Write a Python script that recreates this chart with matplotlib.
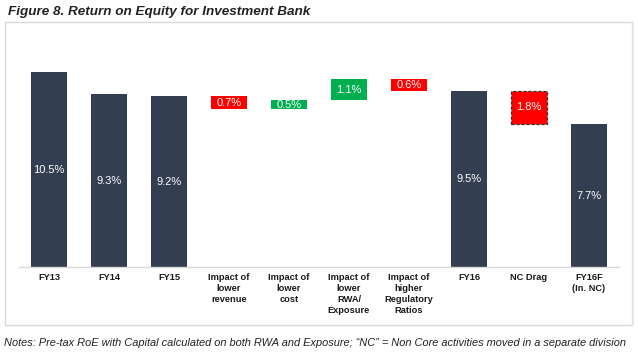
import matplotlib
matplotlib.use("Agg")
import matplotlib.pyplot as plt
from matplotlib.patches import Rectangle

plt.rcParams['font.family'] = ['Liberation Sans', 'DejaVu Sans']

categories = ["FY13", "FY14", "FY15", "Impact of\nlower\nrevenue", "Impact of\nlower\ncost",
              "Impact of\nlower\nRWA/\nExposure", "Impact of\nhigher\nRegulatory\nRatios",
              "FY16", "NC Drag", "FY16F\n(In. NC)"]
values = [10.5, 9.3, 9.2, -0.7, 0.5, 1.1, -0.6, 9.5, -1.8, 7.7]
kinds = ["total", "total", "total", "delta", "delta", "delta", "delta", "total", "delta", "total"]

dark = "#333F50"
red = "#FF0000"
green = "#00B050"

fig = plt.figure(figsize=(6.38, 3.56), dpi=100)
W, H = 638, 356

# frame
fig.patches.append(Rectangle((5 / W, 1 - 325 / H), 627 / W, 303 / H, transform=fig.transFigure,
                             facecolor="white", edgecolor="#D9D9D9", linewidth=1.0, zorder=-2))
fig.patches.append(Rectangle((632 / W, 1 - 325 / H), 2 / W, 301 / H, transform=fig.transFigure,
                             facecolor="#E6E6E6", edgecolor="none", zorder=-2))

px_per = 18.57
base_y = 267
ymax = 12.5
ax = fig.add_axes([19 / W, (H - base_y) / H, 600 / W, ymax * px_per / H])
ax.set_zorder(2)
ax.set_xlim(-0.5, len(categories) - 0.5)
ax.set_ylim(0, ymax)
ax.patch.set_alpha(0)

level = 0.0
for i, (v, k) in enumerate(zip(values, kinds)):
    if k == "total":
        ax.bar(i, v, width=0.6, color=dark, zorder=2)
        ax.text(i, v / 2, f"{v:.1f}%", ha="center", va="center", color="white", fontsize=8, zorder=3)
        level = v
    else:
        bottom = level + min(v, 0)
        col = red if v < 0 else green
        if i == 8:
            ax.bar(i, abs(v), bottom=bottom, width=0.6, color=col, edgecolor="#333333",
                   linewidth=0.9, linestyle=(0, (2.5, 1.5)), zorder=2)
        else:
            ax.bar(i, abs(v), bottom=bottom, width=0.6, color=col, zorder=2)
        ax.text(i, bottom + abs(v) / 2, f"{abs(v):.1f}%", ha="center", va="center",
                color="white", fontsize=8, zorder=3)
        level = level + v

for s in ["top", "right", "left"]:
    ax.spines[s].set_visible(False)
ax.spines["bottom"].set_color("#D9D9D9")
ax.spines["bottom"].set_linewidth(1.0)
ax.set_yticks([])
ax.set_xticks(range(len(categories)))
ax.set_xticklabels(categories, fontsize=6.7, fontweight="bold", color="#1a1a1a", linespacing=1.3)
ax.tick_params(axis="x", length=0, pad=4)

fig.text(8 / W, 1 - 12 / H, "Figure 8. Return on Equity for Investment Bank", ha="left", va="center",
         fontsize=9.7, fontweight="bold", fontstyle="italic", color="#222222")
fig.text(4 / W, 1 - 343 / H,
         "Notes: Pre-tax RoE with Capital calculated on both RWA and Exposure; \u201cNC\u201d = Non Core activities moved in a separate division",
         ha="left", va="center", fontsize=7.95, fontstyle="italic", color="#222222")

fig.savefig("out.png", dpi=100)
